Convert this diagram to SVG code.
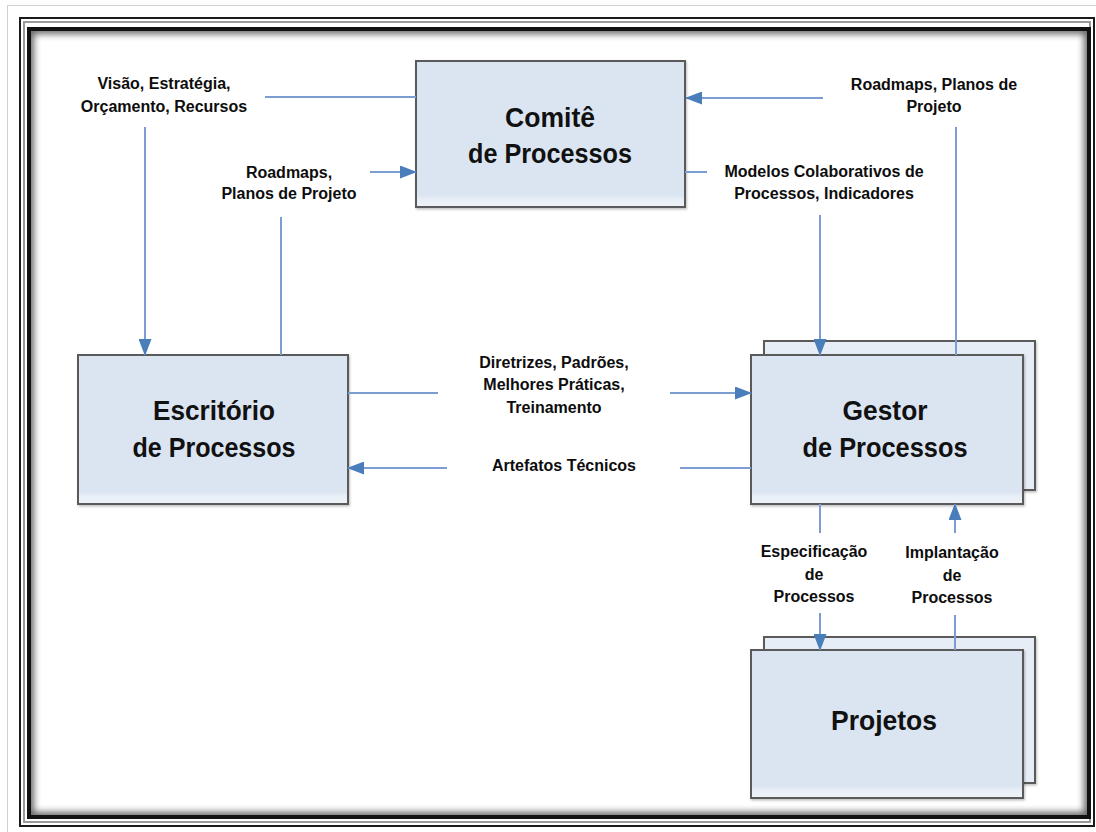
<svg xmlns="http://www.w3.org/2000/svg" width="1096" height="832" viewBox="0 0 1096 832">
  <defs>
    <style>
      .box { fill: url(#boxFill); stroke: #5a5a5a; stroke-width: 2; filter: url(#shadow); }
      .back { fill: #e7edf6; stroke: #5a5a5a; stroke-width: 2; filter: url(#shadow); }
      .title { font-family: "Liberation Sans", Arial, sans-serif; font-weight: bold; font-size: 28px; fill: #111; text-anchor: middle; }
      .lbl { font-family: "Liberation Sans", Arial, sans-serif; font-weight: bold; font-size: 16px; fill: #0d0d0d; text-anchor: middle; }
      .wire { fill: none; stroke: #7b9dd2; stroke-width: 2; }
    </style>
    <linearGradient id="boxFill" x1="0" y1="0" x2="0" y2="1">
      <stop offset="0" stop-color="#dbe5f1"/>
      <stop offset="0.92" stop-color="#dbe5f1"/>
      <stop offset="0.95" stop-color="#e9eff7"/>
      <stop offset="1" stop-color="#eef2f8"/>
    </linearGradient>
    <filter id="shadow" x="-5%" y="-5%" width="112%" height="115%">
      <feDropShadow dx="1" dy="1.5" stdDeviation="1" flood-color="#000" flood-opacity="0.25"/>
    </filter>
    <filter id="soft" x="-2%" y="-2%" width="104%" height="104%">
      <feGaussianBlur stdDeviation="3.5"/>
    </filter>
    <clipPath id="inside">
      <rect x="29" y="29" width="1060" height="788"/>
    </clipPath>
    <marker id="arrow" markerUnits="userSpaceOnUse" viewBox="0 0 17 13" markerWidth="17" markerHeight="13" refX="16" refY="6.5" orient="auto">
      <path d="M0,0 L17,6.5 L0,13 z" fill="#4a7ebb"/>
    </marker>
  </defs>

  <rect width="1096" height="832" fill="#ffffff"/>

  <!-- page frame -->
  <g id="frame">
    <rect x="7.5" y="5.5" width="1100" height="840" fill="none" stroke="#d0d0d0" stroke-width="1"/>
    <rect x="20" y="18" width="1074" height="808" fill="none" stroke="#1a1a1a" stroke-width="2"/>
    <rect x="24" y="22" width="1066" height="800" fill="none" stroke="#9a9a9a" stroke-width="2"/>
    <g clip-path="url(#inside)">
      <rect x="29" y="29" width="1060" height="788" fill="none" stroke="#000" stroke-width="10" opacity="0.6" filter="url(#soft)"/>
    </g>
    <rect x="29" y="29" width="1060" height="788" fill="none" stroke="#111" stroke-width="4"/>
  </g>

  <g id="comite">
    <rect class="box" x="416" y="61" width="269" height="146"/>
    <text class="title" x="550" y="127" textLength="90" lengthAdjust="spacingAndGlyphs">Comitê</text>
    <text class="title" x="550" y="163" textLength="164" lengthAdjust="spacingAndGlyphs">de Processos</text>
  </g>

  <g id="escritorio">
    <rect class="box" x="78" y="355" width="270" height="149"/>
    <text class="title" x="214" y="420" textLength="122" lengthAdjust="spacingAndGlyphs">Escritório</text>
    <text class="title" x="214" y="457" textLength="163" lengthAdjust="spacingAndGlyphs">de Processos</text>
  </g>

  <g id="gestor">
    <rect class="back" x="764" y="341" width="271" height="149"/>
    <rect class="box" x="751" y="355" width="272" height="149"/>
    <text class="title" x="885" y="420" textLength="85" lengthAdjust="spacingAndGlyphs">Gestor</text>
    <text class="title" x="885" y="457" textLength="165" lengthAdjust="spacingAndGlyphs">de Processos</text>
  </g>

  <g id="projetos">
    <rect class="back" x="764" y="637" width="271" height="146"/>
    <rect class="box" x="751" y="650" width="272" height="148"/>
    <text class="title" x="884" y="730" textLength="106" lengthAdjust="spacingAndGlyphs">Projetos</text>
  </g>

  <!-- connectors, broken where their labels sit -->
  <g id="connectors">
    <path class="wire" d="M416,97 H265"/>
    <path class="wire" d="M145,127 V355" marker-end="url(#arrow)"/>

    <path class="wire" d="M281,355 V217"/>
    <path class="wire" d="M370,172 H416" marker-end="url(#arrow)"/>

    <path class="wire" d="M956,355 V127"/>
    <path class="wire" d="M823,98 H686" marker-end="url(#arrow)"/>

    <path class="wire" d="M685,172 H707"/>
    <path class="wire" d="M820,215 V355" marker-end="url(#arrow)"/>

    <path class="wire" d="M348,393 H438"/>
    <path class="wire" d="M670,393 H751" marker-end="url(#arrow)"/>

    <path class="wire" d="M751,468 H680"/>
    <path class="wire" d="M447,468 H348" marker-end="url(#arrow)"/>

    <path class="wire" d="M820,504 V533"/>
    <path class="wire" d="M820,613 V650" marker-end="url(#arrow)"/>

    <path class="wire" d="M955,650 V615"/>
    <path class="wire" d="M955,533 V504" marker-end="url(#arrow)"/>
  </g>

  <!-- connector labels -->
  <g id="labels">
    <text class="lbl" x="164" y="89">Visão, Estratégia,</text>
    <text class="lbl" x="164" y="112">Orçamento, Recursos</text>

    <text class="lbl" x="289" y="178">Roadmaps,</text>
    <text class="lbl" x="289" y="199">Planos de Projeto</text>

    <text class="lbl" x="934" y="90">Roadmaps, Planos de</text>
    <text class="lbl" x="934" y="112">Projeto</text>

    <text class="lbl" x="824" y="177">Modelos Colaborativos de</text>
    <text class="lbl" x="824" y="199">Processos, Indicadores</text>

    <text class="lbl" x="554" y="368">Diretrizes, Padrões,</text>
    <text class="lbl" x="554" y="390">Melhores Práticas,</text>
    <text class="lbl" x="554" y="413">Treinamento</text>

    <text class="lbl" x="564" y="471">Artefatos Técnicos</text>

    <text class="lbl" x="814" y="557">Especificação</text>
    <text class="lbl" x="814" y="580">de</text>
    <text class="lbl" x="814" y="602">Processos</text>

    <text class="lbl" x="952" y="558">Implantação</text>
    <text class="lbl" x="952" y="581">de</text>
    <text class="lbl" x="952" y="603">Processos</text>
  </g>
</svg>
